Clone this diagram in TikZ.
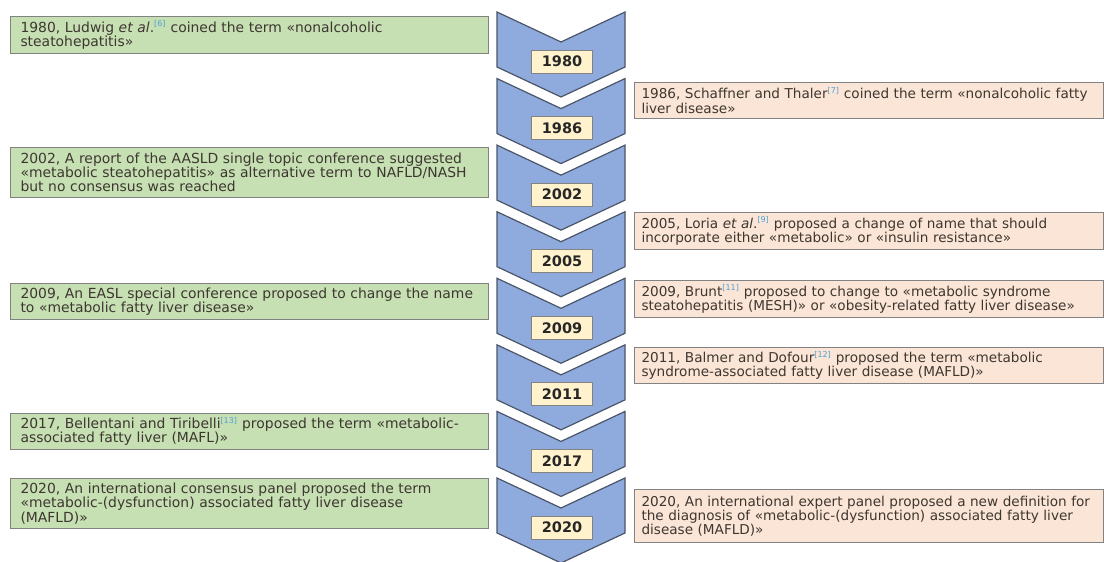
\documentclass[tikz,border=0pt]{standalone}
\usepackage{fontspec}
\setmainfont{DejaVu Sans}
\usepackage{tikz}

\definecolor{chevblue}{RGB}{143,170,220}
\definecolor{chevline}{RGB}{75,85,105}
\definecolor{yearfill}{RGB}{255,242,204}
\definecolor{leftfill}{RGB}{198,224,180}
\definecolor{rightfill}{RGB}{251,229,214}
\definecolor{boxline}{RGB}{130,130,130}
\definecolor{txt}{RGB}{62,55,48}
\definecolor{citeblue}{RGB}{80,160,210}

\newcommand{\refnum}[1]{\textsuperscript{\fontsize{8}{8}\selectfont\color{citeblue}[#1]}}

\tikzset{
  chevron/.style={fill=chevblue, draw=chevline, line width=1.2pt, line join=miter},
  yearbox/.style={draw=boxline, fill=yearfill, line width=0.8pt, minimum width=61, minimum height=23,
    inner sep=0pt, font=\fontsize{14.5}{15}\selectfont\bfseries, text=black!85},
  leftbox/.style={draw=boxline, fill=leftfill, line width=1pt, anchor=north west, minimum width=478,
    text width=458, align=left, inner xsep=10pt, inner ysep=2pt,
    font=\fontsize{13.9}{14.2}\selectfont, text=txt},
  rightbox/.style={leftbox, fill=rightfill, minimum width=469, text width=455, inner xsep=7pt,
    font=\fontsize{13.6}{14.2}\selectfont}
}

\begin{document}
\begin{tikzpicture}[x=1pt, y=-1pt]
    \useasboundingbox (0,0) rectangle (1104,562);
    % Chevrons with the years
    \foreach \yr [count=\i from 0] in {1980,1986,2002,2005,2009,2011,2017,2020} {
        \pgfmathsetmacro{\top}{12+66.57*\i}
        \draw[chevron] (497,\top) -- (561,\top+30) -- (625,\top) -- (625,\top+55)
            -- (561,\top+85) -- (497,\top+55) -- cycle;
        \node[yearbox] (y\yr) at (562,\top+49.5) {\yr};
    }
    % Left column
    \node[leftbox, minimum height=37] (n1980) at (10,16)
        {1980, Ludwig \textit{et al}.\refnum{6} coined the term «nonalcoholic\\steatohepatitis»};
    \node[leftbox, minimum height=50] (n2002) at (10,147)
        {2002, A report of the AASLD single topic conference suggested\\«metabolic steatohepatitis» as alternative term to NAFLD/NASH\\but no consensus was reached};
    \node[leftbox, minimum height=36] (n2009) at (10,283)
        {2009, An EASL special conference proposed to change the name\\to «metabolic fatty liver disease»};
    \node[leftbox, minimum height=36] (n2017) at (10,413)
        {2017, Bellentani and Tiribelli\refnum{13} proposed the term «metabolic-\\associated fatty liver (MAFL)»};
    \node[leftbox, minimum height=50] (n2020a) at (10,478)
        {2020, An international consensus panel proposed the term\\«metabolic-(dysfunction) associated fatty liver disease\\(MAFLD)»};
    % Right column
    \node[rightbox, minimum height=36] (n1986) at (634,82)
        {1986, Schaffner and Thaler\refnum{7} coined the term «nonalcoholic fatty\\liver disease»};
    \node[rightbox, minimum height=37] (n2005) at (634,212)
        {2005, Loria \textit{et al}.\refnum{9} proposed a change of name that should\\incorporate either «metabolic» or «insulin resistance»};
    \node[rightbox, minimum height=37] (n2009b) at (634,280)
        {2009, Brunt\refnum{11} proposed to change to «metabolic syndrome\\steatohepatitis (MESH)» or «obesity-related fatty liver disease»};
    \node[rightbox, minimum height=36] (n2011) at (634,347)
        {2011, Balmer and Dofour\refnum{12} proposed the term «metabolic\\syndrome-associated fatty liver disease (MAFLD)»};
    \node[rightbox, minimum height=53] (n2020b) at (634,489)
        {2020, An international expert panel proposed a new definition for\\the diagnosis of «metabolic-(dysfunction) associated fatty liver\\disease (MAFLD)»};
\end{tikzpicture}
\end{document}
